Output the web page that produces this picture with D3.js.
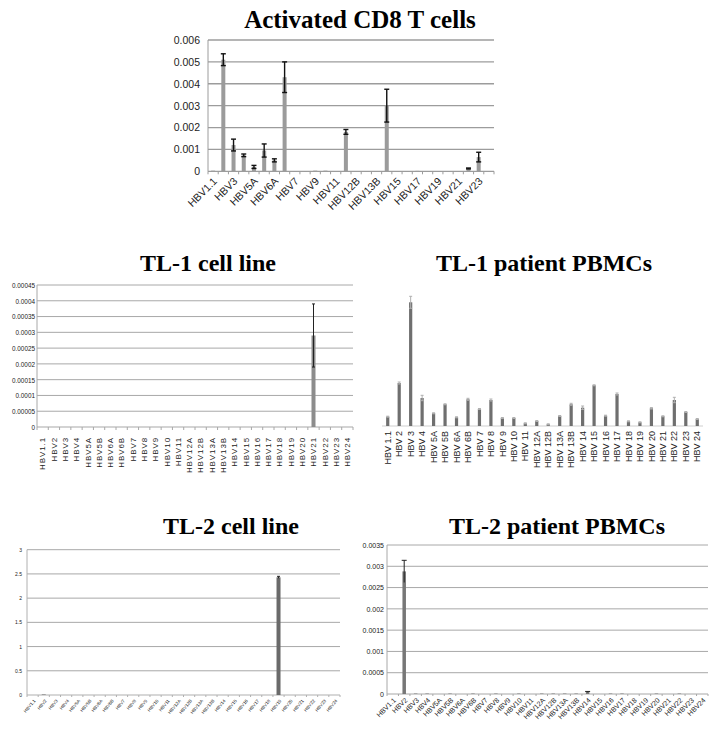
<!DOCTYPE html>
<html>
<head>
<meta charset="utf-8">
<script src="https://cdn.jsdelivr.net/npm/d3@7"></script>
<style>
  body { margin: 0; background: #fff; }
  svg { display: block; }
  .title { font-family: 'Liberation Serif', 'Times New Roman', serif; font-weight: bold; fill: #000; }
</style>
</head>
<body>
<script>
// categories
var hbv = ['HBV1.1','HBV2','HBV3','HBV4','HBV5A','HBV5B','HBV6A','HBV6B','HBV7','HBV8','HBV9','HBV10',
  'HBV11','HBV12A','HBV12B','HBV13A','HBV13B','HBV14','HBV15','HBV16','HBV17','HBV18','HBV19','HBV20',
  'HBV21','HBV22','HBV23','HBV24']
var hbvSpaced = hbv.map(d => d.replace('HBV', 'HBV '))

// Activated CD8 T cells
var cd8Values = [0.00003, 0.0051, 0.0012, 0.00073, 0.0002, 0.00095, 0.0005, 0.0043, 0.000005, 0.000005,
  0.00003, 0.00003, 0, 0.0018, 0, 0.00001, 0.00001, 0.003, 0.00001, 0.00001, 0.00002, 0, 0, 0, 0,
  0.00013, 0.00065, 0]
var cd8Errors = [0, 0.00027, 0.00027, 0.00006, 0.00007, 0.0003, 0.00007, 0.0007, 0, 0, 0, 0, 0, 0.00011,
  0, 0, 0, 0.00075, 0, 0, 0, 0, 0, 0, 0, 0.00002, 0.00022, 0]
var cd8Ticks = [0, 0.001, 0.002, 0.003, 0.004, 0.005, 0.006]

// TL-1 cell line
var tl1LineValues = [0,0,0,0,0,0,0,0,0,0,0,0,0,0,0,0,0,0,0,0,0,0,0,0,0.00029,0,0,0]
var tl1LineErrors = [0,0,0,0,0,0,0,0,0,0,0,0,0,0,0,0,0,0,0,0,0,0,0,0,0.0001,0,0,0]
var tl1LineTicks = [0, 0.00005, 0.0001, 0.00015, 0.0002, 0.00025, 0.0003, 0.00035, 0.0004, 0.00045]

// TL-1 patient PBMCs (no axis in the figure, relative units)
var tl1PbmcValues = [0.93, 4.3, 12.37, 2.8, 1.27, 2.17, 0.87, 2.67, 1.7, 2.6, 0.8, 0.8, 0.27, 0.5, 0.17,
  1.0, 2.17, 1.83, 4.07, 1.03, 3.2, 0.47, 0.37, 1.77, 0.97, 2.6, 1.4, 0.7]
var tl1PbmcErrors = [0.05, 0.1, 0.6, 0.27, 0.05, 0.05, 0.05, 0.1, 0.05, 0.1, 0.05, 0.05, 0.05, 0.05, 0.05,
  0.05, 0.1, 0.17, 0.05, 0.05, 0.1, 0.05, 0.05, 0.07, 0.05, 0.27, 0.05, 0.05]

// TL-2 cell line
var tl2LineValues = [0,0.01,0,0,0,0,0,0,0,0,0,0,0,0,0,0,0,0,0,0,0,0,2.43,0,0,0,0,0]
var tl2LineErrors = [0,0,0,0,0,0,0,0,0,0,0,0,0,0,0,0,0,0,0,0,0,0,0.02,0,0,0,0,0]
var tl2LineTicks = [0, 0.5, 1, 1.5, 2, 2.5, 3]

// TL-2 patient PBMCs
var tl2PbmcValues = [0, 0.00288, 0.00001, 0.00001, 0, 0.00001, 0, 0.00001, 0, 0.00001, 0, 0.00001, 0,
  0.00001, 0.00001, 0.00001, 0.00001, 0.00005, 0, 0.00001, 0.00001, 0, 0, 0.00001, 0, 0.00001, 0, 0]
var tl2PbmcErrors = [0, 0.00026, 0,0,0,0,0,0,0,0,0,0,0,0,0,0,0, 0.00001, 0,0,0,0,0,0,0,0,0,0]
var tl2PbmcTicks = [0, 0.0005, 0.001, 0.0015, 0.002, 0.0025, 0.003, 0.0035]


var svg = d3.select('body').append('svg').attr('width', 717).attr('height', 734)

function title(text, x, y, size){
  svg.append('text').attr('class', 'title').attr('font-size', size)
    .attr('x', x).attr('y', y).attr('text-anchor', 'middle').text(text)
}

function panel(o){
  var w = o.x1 - o.x0, h = o.y1 - o.y0
  var g = svg.append('g').attr('transform', `translate(${o.x0},${o.y0})`)
  var x = d3.scaleBand().domain(d3.range(o.names.length)).range([0, w])
  var y = d3.scaleLinear().domain(o.domain).range([h, 0])

  if (o.ticks){
    g.selectAll('line.grid').data(o.ticks.filter(d => d > 0)).join('line')
      .attr('x1', 0).attr('x2', w)
      .attr('y1', d => y(d)).attr('y2', d => y(d))
      .attr('stroke', o.gridColor).attr('stroke-width', o.gridWidth)

    var ya = g.append('g').call(d3.axisLeft(y).tickValues(o.ticks).tickSize(0)
      .tickPadding(o.yPad).tickFormat(d => String(d)))
    ya.select('.domain').remove()
    ya.selectAll('text').attr('font-family', o.yFamily || 'Liberation Sans, Arial, sans-serif')
      .attr('font-size', o.yFont).attr('fill', '#222')
    if (o.yStretch) ya.selectAll('text').attr('transform', `scale(${o.yStretch},1)`)
      .attr('x', -o.yPad / o.yStretch)

    g.append('line').attr('x1', 0).attr('x2', 0).attr('y1', 0).attr('y2', h)
      .attr('stroke', o.axisColor).attr('stroke-width', 1)
  }

  // x baseline + boundary ticks
  g.append('line').attr('x1', 0).attr('x2', w).attr('y1', h).attr('y2', h)
    .attr('stroke', o.axisColor).attr('stroke-width', 1.2)
  if (o.boundaryTicks){
    g.selectAll('line.bt').data(d3.range(o.names.length + 1)).join('line')
      .attr('x1', i => i * x.step()).attr('x2', i => i * x.step())
      .attr('y1', h).attr('y2', h + o.boundaryTicks)
      .attr('stroke', o.axisColor).attr('stroke-width', 1)
  }

  var cx = i => x(i) + x.bandwidth() / 2

  g.selectAll('rect.bar').data(o.values).join('rect')
    .attr('x', (d, i) => cx(i) - o.barW / 2)
    .attr('width', o.barW)
    .attr('y', d => y(d))
    .attr('height', d => h - y(d))
    .attr('fill', o.barColor)

  var errs = o.values.map((v, i) => ({v, e: o.errors[i], i})).filter(d => d.e > 0)
  var eg = g.selectAll('g.err').data(errs).join('g')
    .attr('stroke', o.errColor).attr('stroke-width', o.errWidth)
  eg.append('line').attr('x1', d => cx(d.i)).attr('x2', d => cx(d.i))
    .attr('y1', d => y(Math.max(0, d.v - d.e))).attr('y2', d => y(d.v + d.e))
  eg.append('line').attr('x1', d => cx(d.i) - o.capW / 2).attr('x2', d => cx(d.i) + o.capW / 2)
    .attr('y1', d => y(d.v + d.e)).attr('y2', d => y(d.v + d.e))
  if (!o.upOnly){
    eg.append('line').attr('x1', d => cx(d.i) - o.capW / 2).attr('x2', d => cx(d.i) + o.capW / 2)
      .attr('y1', d => y(Math.max(0, d.v - d.e))).attr('y2', d => y(Math.max(0, d.v - d.e)))
  }

  // category labels
  var labels = o.names.map((name, i) => ({name, i})).filter(d => d.i % o.labelEvery == 0)
  var lg = g.selectAll('g.lab').data(labels).join('g')
    .attr('transform', d => `translate(${cx(d.i) + o.labelDx},${h + o.labelDy}) rotate(${o.labelRotate})`)
  lg.append('text')
    .attr('text-anchor', 'end')
    .attr('dy', '0.35em')
    .attr('font-family', o.labelFamily || 'Liberation Sans, Arial, sans-serif')
    .attr('font-size', o.labelFont)
    .attr('letter-spacing', o.labelSpacing || 0)
    .attr('fill', '#222')
    .text(d => d.name)
}

title('Activated CD8 T cells', 360, 28, 25)
panel({
  x0: 208, x1: 494, y0: 40, y1: 171.3, names: hbv, values: cd8Values, errors: cd8Errors,
  domain: [0, 0.006], ticks: cd8Ticks, yFont: 10.5, yPad: 8,
  gridColor: '#9c9c9c', gridWidth: 1.3, axisColor: '#9c9c9c', boundaryTicks: 3,
  barColor: '#9b9b9b', barW: 4, errColor: '#111', errWidth: 1.4, capW: 5,
  labelEvery: 2, labelRotate: -45, labelFont: 10.5, labelDx: 2, labelDy: 8
})

title('TL-1 cell line', 208, 271, 24)
panel({
  x0: 37, x1: 353, y0: 285, y1: 427, names: hbv, values: tl1LineValues, errors: tl1LineErrors,
  domain: [0, 0.00045], ticks: tl1LineTicks, yFont: 7.5, yPad: 2, yStretch: 0.85,
  gridColor: '#a8a8a8', gridWidth: 1, axisColor: '#a8a8a8', boundaryTicks: 3,
  barColor: '#8c8c8c', barW: 4, errColor: '#222', errWidth: 1, capW: 3,
  labelEvery: 1, labelRotate: -90, labelFont: 8, labelSpacing: 0.9, labelDx: 0, labelDy: 10
})

title('TL-1 patient PBMCs', 544, 271, 24)
panel({
  x0: 382, x1: 703, y0: 288, y1: 426, names: hbvSpaced, values: tl1PbmcValues, errors: tl1PbmcErrors,
  domain: [0, 13.8], ticks: null,
  axisColor: '#cfcfcf', boundaryTicks: 0,
  barColor: '#6f6f6f', barW: 3.2, errColor: '#b0b0b0', errWidth: 1, capW: 3,
  labelEvery: 1, labelRotate: -90, labelFont: 9, labelDx: 0, labelDy: 5
})

title('TL-2 cell line', 231, 534, 24)
panel({
  x0: 27, x1: 340, y0: 549.7, y1: 695, names: hbv, values: tl2LineValues, errors: tl2LineErrors,
  domain: [0, 3], ticks: tl2LineTicks, yFont: 5, yPad: 5,
  gridColor: '#a8a8a8', gridWidth: 1, axisColor: '#b0b0b0', boundaryTicks: 2,
  barColor: '#6a6a6a', barW: 4, errColor: '#222', errWidth: 1, capW: 3, upOnly: true,
  labelEvery: 1, labelRotate: -50, labelFont: 4.5, labelDx: 2, labelDy: 5
})

title('TL-2 patient PBMCs', 557, 534, 24)
panel({
  x0: 387, x1: 708, y0: 545, y1: 694, names: hbv, values: tl2PbmcValues, errors: tl2PbmcErrors,
  domain: [0, 0.0035], ticks: tl2PbmcTicks, yFont: 7, yPad: 3,
  gridColor: '#a8a8a8', gridWidth: 1, axisColor: '#a8a8a8', boundaryTicks: 2,
  barColor: '#777', barW: 3.5, errColor: '#222', errWidth: 1, capW: 5, upOnly: true,
  labelEvery: 1, labelRotate: -45, labelFont: 7, labelDx: 2, labelDy: 5
})
</script>
</body>
</html>
